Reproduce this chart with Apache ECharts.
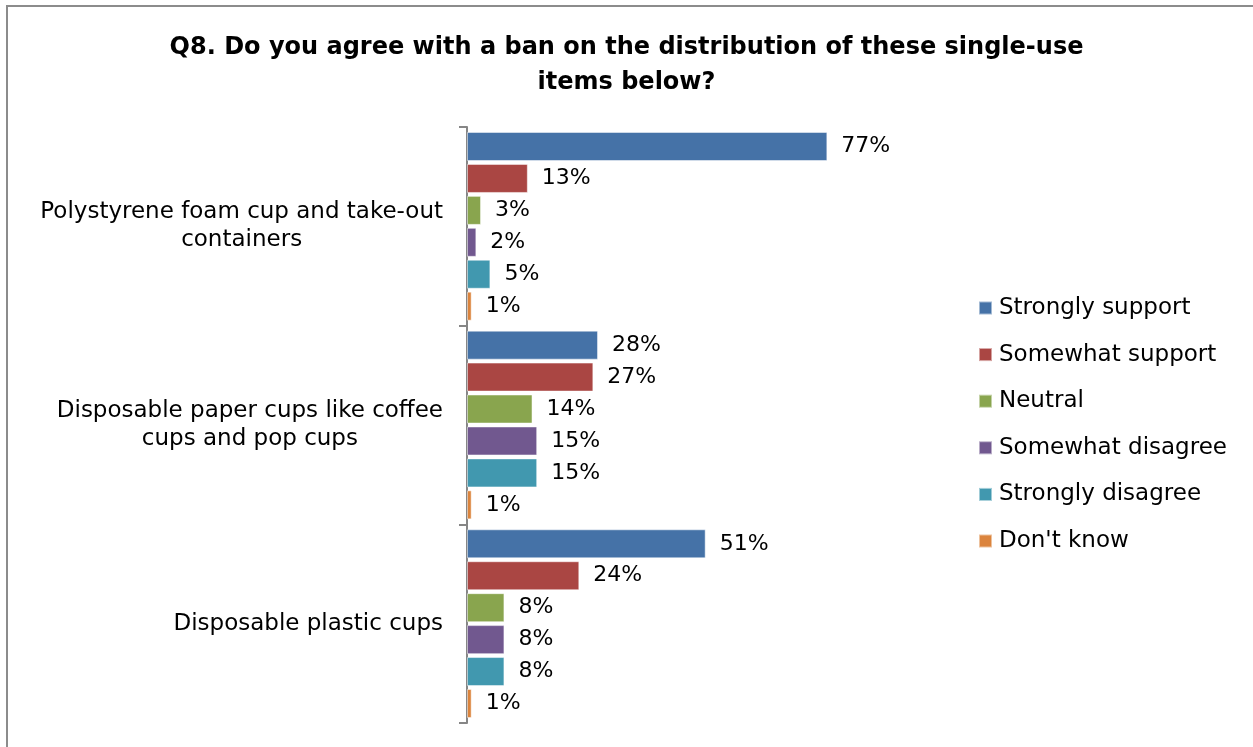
<!DOCTYPE html>
<html>
<head>
<meta charset="utf-8">
<script src="https://cdn.jsdelivr.net/npm/echarts@6/dist/echarts.min.js"></script>
<style>
	html, body { margin: 0; padding: 0; background: #fff; }
	#chart { width: 1253px; height: 747px; }
</style>
</head>
<body>
<div id="chart"></div>
<script>
	// categories (top to bottom)
	var items = [
		'Polystyrene foam cup and take-out\ncontainers',
		'Disposable paper cups like coffee\ncups and pop cups',
		'Disposable plastic cups'
	];
	var answers = ['Strongly support', 'Somewhat support', 'Neutral', 'Somewhat disagree', 'Strongly disagree', "Don't know"];
	var colors = ['#4572A7', '#AA4643', '#89A54E', '#71588F', '#4198AF', '#DB843D'];

	// percent per answer, one value per item
	var stronglySupport = [77, 28, 51];
	var somewhatSupport = [13, 27, 24];
	var neutral = [3, 14, 8];
	var somewhatDisagree = [2, 15, 8];
	var stronglyDisagree = [5, 15, 8];
	var dontKnow = [1, 1, 1];

	var values = [stronglySupport, somewhatSupport, neutral, somewhatDisagree, stronglyDisagree, dontKnow];

	var chart = echarts.init(document.getElementById('chart'));

	var series = answers.map(function (name, i) {
		return {
			name: name,
			type: 'bar',
			data: values[i],
			barGap: '10%',
			barCategoryGap: '5%',
			itemStyle: {
				color: colors[i],
				borderColor: 'rgba(255,255,255,0.5)',
				borderWidth: 1
			},
			label: {
				show: true,
				position: 'right',
				distance: 14,
				formatter: '{c}%',
				color: '#000',
				fontFamily: 'DejaVu Sans',
				fontSize: 22
			}
		};
	});

	var option = {
		animation: false,
		color: colors,
		title: {
			text: 'Q8. Do you agree with a ban on the distribution of these single-use\nitems below?',
			left: 'center',
			top: 25,
			textStyle: {
				fontFamily: 'DejaVu Sans',
				fontWeight: 'bold',
				fontSize: 24,
				lineHeight: 35,
				color: '#000'
			}
		},
		legend: {
			orient: 'vertical',
			left: 978,
			top: 296,
			padding: 0,
			itemWidth: 13,
			itemHeight: 13,
			itemGap: 22.6,
			icon: 'rect',
			data: answers,
			textStyle: {
				fontFamily: 'DejaVu Sans',
				fontSize: 23,
				lineHeight: 24,
				color: '#000',
				padding: [0, 0, 0, 2]
			}
		},
		grid: {
			left: 467,
			right: 318,
			top: 127,
			bottom: 24,
			containLabel: false
		},
		xAxis: {
			type: 'value',
			min: 0,
			max: 100,
			show: false
		},
		yAxis: {
			type: 'category',
			inverse: true,
			data: items,
			axisLine: { show: true, lineStyle: { color: '#868686', width: 2 } },
			axisTick: { show: true, length: 8, lineStyle: { color: '#868686', width: 2 } },
			axisLabel: {
				margin: 24,
				color: '#000',
				fontFamily: 'DejaVu Sans',
				fontSize: 23,
				lineHeight: 28,
				formatter: function (v) {
					return v.split('\n').map(function (s) { return '{c|' + s + '}'; }).join('\n');
				},
				rich: {
					c: {
						align: 'center',
						fontFamily: 'DejaVu Sans',
						fontSize: 23,
						lineHeight: 28,
						color: '#000'
					}
				}
			}
		},
		graphic: [{
			type: 'rect',
			shape: { x: 7, y: 6, width: 1400, height: 900 },
			style: { fill: 'none', stroke: '#8c8c8c', lineWidth: 2 },
			silent: true
		}],
		series: series
	};

	chart.setOption(option);
</script>
</body>
</html>
